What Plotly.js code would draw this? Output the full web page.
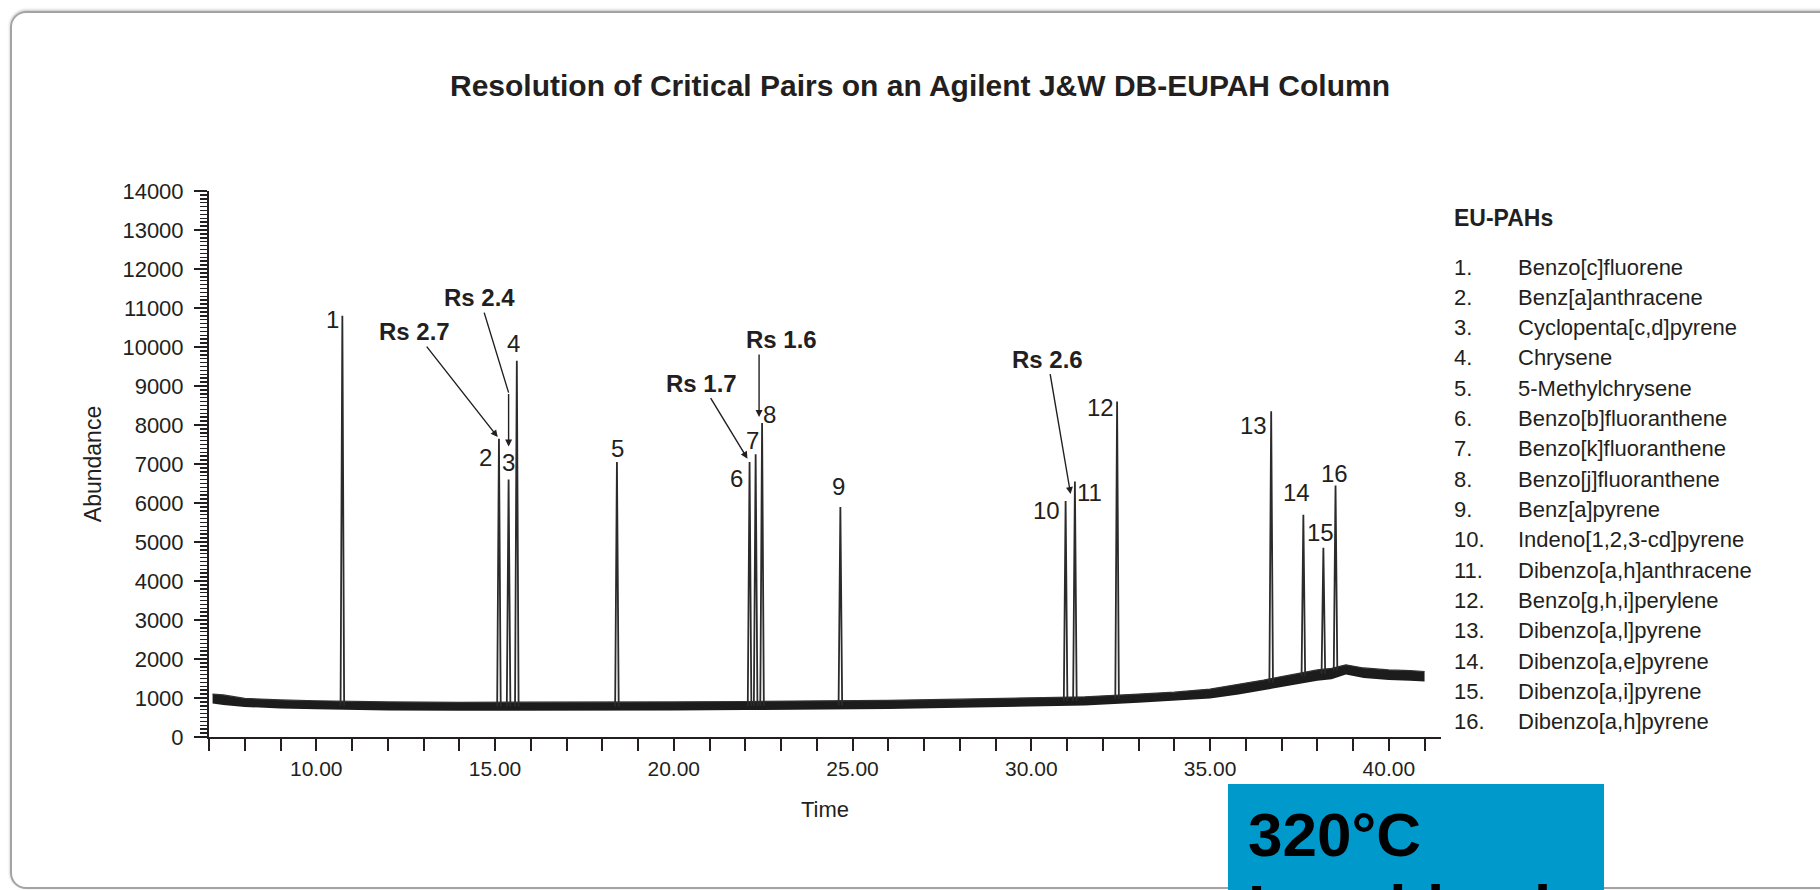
<!DOCTYPE html>
<html>
<head>
<meta charset="utf-8">
<script src="https://cdn.plot.ly/plotly-3.0.1.min.js"></script>
<style>
  html, body { margin: 0; padding: 0; background: #ffffff; overflow: hidden; }
  #frame { position: absolute; left: 10px; top: 11px; width: 1840px; height: 874px;
           border: 2px solid #a3a3a3; border-radius: 16px;
           box-shadow: 0 -1px 3px rgba(0,0,0,0.25); z-index: 0; }
  #chart { position: absolute; left: 0; top: 0; width: 1820px; height: 890px; z-index: 1; }
</style>
</head>
<body>
<div id="frame"></div>
<div id="chart"></div>
<script>
// ---------------- data ----------------
// baseline noise envelope (time in min, abundance)
const baseTime = [7.1, 7.4, 8.0, 9.0, 10.0, 11.0, 12.0, 14.0, 16.0, 18.0, 20.0, 22.0, 24.0, 26.0, 28.0, 30.0, 31.5, 33.0, 34.0, 35.0, 35.8, 36.5, 37.0, 37.5, 38.0, 38.4, 38.8, 39.3, 40.0, 40.6, 41.0];
const baseHigh = [1100, 1080, 990, 950, 930, 910, 900, 890, 890, 890, 900, 910, 920, 940, 970, 1000, 1030, 1100, 1150, 1230, 1350, 1460, 1550, 1640, 1720, 1760, 1850, 1770, 1720, 1700, 1680];
const baseLow  = [860, 820, 770, 730, 710, 690, 680, 670, 670, 670, 680, 690, 700, 720, 750, 780, 810, 880, 930, 990, 1090, 1200, 1290, 1360, 1440, 1480, 1600, 1510, 1460, 1440, 1420];

// peaks
const peakLabel = ['1','2','3','4','5','6','7','8','9','10','11','12','13','14','15','16'];
const peakTime  = [10.73, 15.11, 15.38, 15.61, 18.41, 22.12, 22.29, 22.47, 24.66, 30.96, 31.22, 32.40, 36.71, 37.61, 38.17, 38.51];
const peakApex  = [10800, 7650, 6600, 9650, 7050, 7050, 7250, 8050, 5900, 6050, 6550, 8600, 8350, 5700, 4850, 6450];
const peakBase  = [800, 780, 780, 780, 780, 800, 800, 800, 810, 920, 925, 990, 1400, 1560, 1620, 1700];

// compound list
const compoundNames = ['Benzo[c]fluorene','Benz[a]anthracene','Cyclopenta[c,d]pyrene','Chrysene','5-Methylchrysene',
  'Benzo[b]fluoranthene','Benzo[k]fluoranthene','Benzo[j]fluoranthene','Benz[a]pyrene','Indeno[1,2,3-cd]pyrene',
  'Dibenzo[a,h]anthracene','Benzo[g,h,i]perylene','Dibenzo[a,l]pyrene','Dibenzo[a,e]pyrene','Dibenzo[a,i]pyrene','Dibenzo[a,h]pyrene'];

// resolution of critical pairs: [text, peak index]
const rsText = ['Rs 2.7', 'Rs 2.4', 'Rs 1.7', 'Rs 1.6', 'Rs 2.6'];
const rsPeak = [1, 2, 5, 7, 9];

// ---------------- styling / layout ----------------
const FONT = 'Liberation Sans, Arial, Helvetica, sans-serif';
const INK = '#231f20';
const W = 1820, H = 890;
const M = {l: 209, r: 379, t: 191, b: 153};
const plotW = W - M.l - M.r, plotH = H - M.t - M.b;
const px2x = px => (px - M.l) / plotW;
const py2y = py => (H - M.b - py) / plotH;
const HALF = 0.05; // half base width of a peak (min)

// peak traces
const px = [], py = [];
for (let i = 0; i < peakTime.length; i++) {
  px.push(peakTime[i] - HALF, peakTime[i], peakTime[i] + HALF, null);
  py.push(peakBase[i], peakApex[i], peakBase[i], null);
}

const traces = [
  {x: baseTime, y: baseLow, mode: 'lines', line: {width: 0, color: '#1c1c1c'}, hoverinfo: 'skip', showlegend: false},
  {x: baseTime, y: baseHigh, mode: 'lines', fill: 'tonexty', fillcolor: '#1c1c1c', line: {width: 1.2, color: '#333'}, hoverinfo: 'skip', showlegend: false},
  {x: px, y: py, mode: 'lines', line: {width: 1.8, color: '#2b2b2b'}, connectgaps: false, showlegend: false}
];

// peak number label offsets in px (dx right, dy down)
const labelOff = [[-10,4],[-13,19],[0,-17],[-3,-17],[1,-14],[-13,16],[-3,-14],[7,-9],[-2,-20],[-19,9],[15,11],[-17,6],[-18,14],[-7,-22],[-3,-15],[-1,-12]];

const annotations = [];
for (let i = 0; i < peakTime.length; i++) {
  annotations.push({x: peakTime[i], y: peakApex[i], xref: 'x', yref: 'y', text: peakLabel[i], showarrow: false,
    xshift: labelOff[i][0], yshift: -labelOff[i][1], font: {family: FONT, size: 24, color: INK}});
}

const rsFont = {family: FONT, size: 24, color: INK, weight: 'bold'};
const arrowStyle = {arrowcolor: INK, arrowwidth: 1.4, arrowsize: 1, arrowhead: 2};
// Rs 2.7
annotations.push(Object.assign({x: peakTime[rsPeak[0]], y: peakApex[rsPeak[0]], xref: 'x', yref: 'y', text: '<b>' + rsText[0] + '</b>',
  showarrow: true, ax: -84, ay: -107, standoff: 2, font: rsFont}, arrowStyle));
// Rs 2.4 (bent arrow: diagonal part + vertical part)
annotations.push(Object.assign({x: peakTime[rsPeak[1]], y: peakApex[rsPeak[1]], xref: 'x', yref: 'y', text: '<b>' + rsText[1] + '</b>',
  showarrow: true, yshift: 87, ax: -29, ay: -95, standoff: 0, font: rsFont}, arrowStyle, {arrowhead: 0}));
annotations.push(Object.assign({x: peakTime[rsPeak[1]], y: peakApex[rsPeak[1]], xref: 'x', yref: 'y', text: '',
  showarrow: true, yshift: 33, ax: 0, ay: -54, standoff: 0}, arrowStyle));
// Rs 1.7
annotations.push(Object.assign({x: peakTime[rsPeak[2]], y: peakApex[rsPeak[2]], xref: 'x', yref: 'y', text: '<b>' + rsText[2] + '</b>',
  showarrow: true, ax: -48, ay: -79, standoff: 4, font: rsFont}, arrowStyle));
// Rs 1.6 (vertical arrow + text)
annotations.push(Object.assign({x: peakTime[rsPeak[3]], y: peakApex[rsPeak[3]], xref: 'x', yref: 'y', text: '',
  showarrow: true, xshift: -3, yshift: 6, ax: 0, ay: -64, standoff: 0}, arrowStyle));
annotations.push({x: peakTime[rsPeak[3]], y: peakApex[rsPeak[3]], xref: 'x', yref: 'y', text: '<b>' + rsText[3] + '</b>',
  showarrow: false, xshift: 19, yshift: 84, font: rsFont});
// Rs 2.6
annotations.push(Object.assign({x: peakTime[rsPeak[4]], y: peakApex[rsPeak[4]], xref: 'x', yref: 'y', text: '<b>' + rsText[4] + '</b>',
  showarrow: true, xshift: 5, yshift: 7, ax: -23, ay: -135, standoff: 0, font: rsFont}, arrowStyle));

// compound list on the right
const listNumX = 1452, listNameX = 1516, listTop = 267, listStep = 30.33;
annotations.push({xref: 'paper', yref: 'paper', x: px2x(listNumX), y: py2y(218), xanchor: 'left', yanchor: 'middle',
  text: '<b>EU-PAHs</b>', showarrow: false, font: {family: FONT, size: 23, color: INK}});
for (let i = 0; i < compoundNames.length; i++) {
  const yy = py2y(listTop + i * listStep);
  annotations.push({xref: 'paper', yref: 'paper', x: px2x(listNumX), y: yy, xanchor: 'left', yanchor: 'middle',
    text: (i + 1) + '.', showarrow: false, font: {family: FONT, size: 22, color: INK}});
  annotations.push({xref: 'paper', yref: 'paper', x: px2x(listNameX), y: yy, xanchor: 'left', yanchor: 'middle',
    text: compoundNames[i], showarrow: false, font: {family: FONT, size: 22, color: INK}});
}

// blue badge
annotations.push({xref: 'paper', yref: 'paper', x: px2x(1246), y: py2y(834), xanchor: 'left', yanchor: 'middle',
  text: '<b>320°C</b>', showarrow: false, font: {family: FONT, size: 62, color: '#000000'}});
annotations.push({xref: 'paper', yref: 'paper', x: px2x(1246), y: py2y(906), xanchor: 'left', yanchor: 'middle',
  text: '<b>Low bleed</b>', showarrow: false, font: {family: FONT, size: 62, color: '#000000'}});

const shapes = [
  {type: 'rect', xref: 'paper', yref: 'paper', x0: px2x(1228), x1: px2x(1604), y0: py2y(784), y1: py2y(1000),
   fillcolor: '#0099cc', line: {width: 0}, layer: 'below'}
];

const axisCommon = {showgrid: false, zeroline: false, showline: true, linecolor: INK, linewidth: 2,
  ticks: 'outside', tickcolor: INK, tickwidth: 2};

const layout = {
  width: W, height: H, margin: M,
  paper_bgcolor: 'rgba(0,0,0,0)', plot_bgcolor: 'rgba(0,0,0,0)',
  font: {family: FONT, color: INK},
  title: {text: '<b>Resolution of Critical Pairs on an Agilent J&W DB-EUPAH Column</b>', font: {family: FONT, size: 30, color: INK},
    x: 920 / W, xanchor: 'center', y: 1 - 85 / H, yanchor: 'middle'},
  xaxis: Object.assign({}, axisCommon, {range: [7, 41.46], tick0: 0, dtick: 5, tickformat: '.2f', ticklen: 12,
    tickfont: {family: FONT, size: 21, color: INK},
    minor: {dtick: 1, tick0: 0, ticks: 'outside', ticklen: 12, tickwidth: 2, tickcolor: INK, showgrid: false},
    title: {text: 'Time', font: {family: FONT, size: 22, color: INK}, standoff: 22}}),
  yaxis: Object.assign({}, axisCommon, {range: [0, 14000], tick0: 0, dtick: 1000, ticklen: 13, tickformat: 'd',
    tickfont: {family: FONT, size: 22, color: INK}, ticklabelstandoff: 6,
    minor: {dtick: 100, tick0: 0, ticks: 'outside', ticklen: 7, tickwidth: 1.5, tickcolor: INK, showgrid: false},
    title: {text: 'Abundance', font: {family: FONT, size: 23, color: INK}, standoff: 14}}),
  annotations: annotations,
  shapes: shapes,
  showlegend: false
};

Plotly.newPlot('chart', traces, layout, {staticPlot: true, displayModeBar: false});
</script>
</body>
</html>
